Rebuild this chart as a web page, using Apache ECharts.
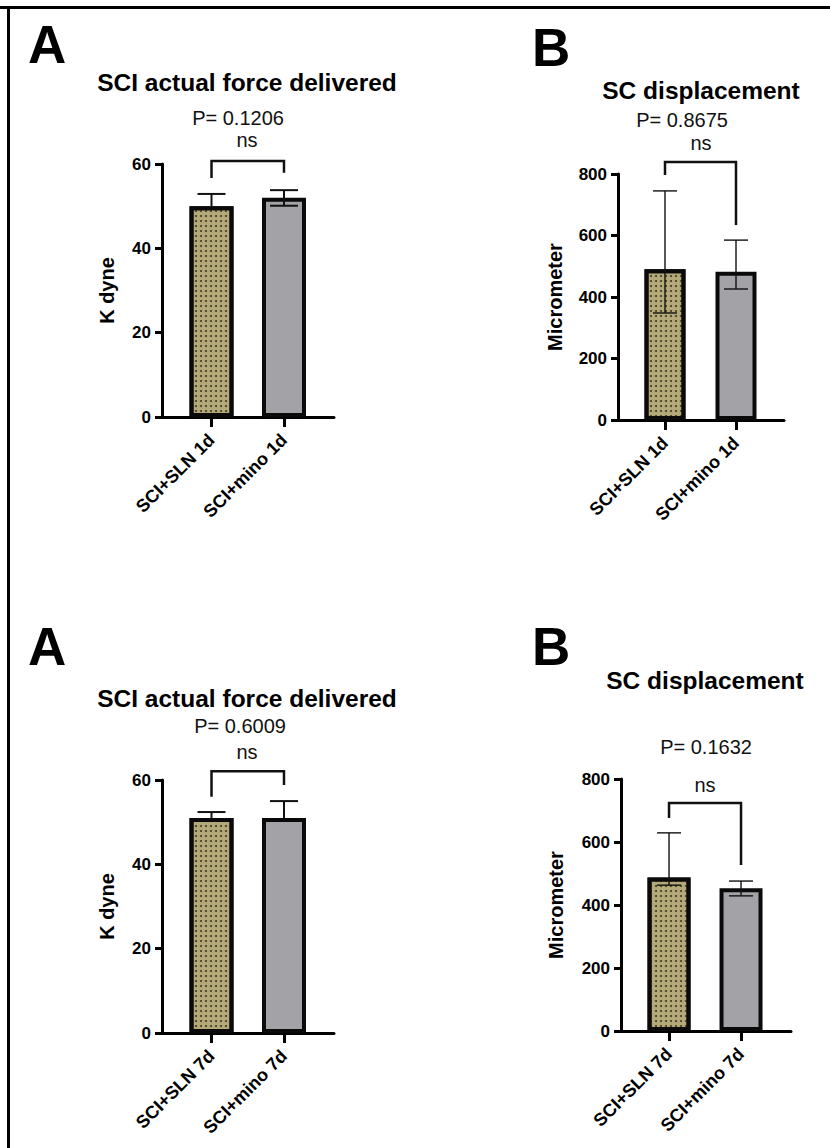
<!DOCTYPE html>
<html>
<head>
<meta charset="utf-8">
<script src="https://cdn.jsdelivr.net/npm/echarts@6/dist/echarts.min.js"></script>
<style>
  html, body { margin: 0; padding: 0; background: #fff; }
  #chart { width: 830px; height: 1148px; }
</style>
</head>
<body>
<div id="chart"></div>
<script>
// Group names per time point
const categories1d = ['SCI+SLN 1d', 'SCI+mino 1d'];
const categories7d = ['SCI+SLN 7d', 'SCI+mino 7d'];

// Actual impact force (K dyne): mean, lower and upper error limits
const forceMean1d = [50, 52];
const forceLow1d = [50, 50.1];
const forceHigh1d = [52.9, 53.8];
const forceMean7d = [51, 51];
const forceLow7d = [51, 51];
const forceHigh7d = [52.4, 55.0];

// Spinal cord displacement (micrometer): mean, lower and upper error limits
const dispMean1d = [490, 482];
const dispLow1d = [348, 426];
const dispHigh1d = [745, 585];
const dispMean7d = [487, 453];
const dispLow7d = [463, 429];
const dispHigh7d = [629, 476];

// Axis ticks
const forceTicks = { max: 60, step: 20 };
const dispTicks = { max: 800, step: 200 };

// Statistics annotations
const pValues = ['P= 0.1206', 'P= 0.8675', 'P= 0.6009', 'P= 0.1632'];
const sigLabel = 'ns';
const titles = ['SCI actual force delivered', 'SC displacement', 'SCI actual force delivered', 'SC displacement'];
const letters = ['A', 'B', 'A', 'B'];
const yNames = ['K dyne', 'Micrometer', 'K dyne', 'Micrometer'];

const FONT = '"Liberation Sans", Arial, Helvetica, sans-serif';
const KHAKI = '#b4a978';
const GREY = '#a2a2a7';

// Layout of the four panels
const panels = [
  { grid: { left: 162, top: 164, width: 172, height: 253 }, xr: [0.317, 2.69], ticks: forceTicks,
    cats: categories1d, mean: forceMean1d, low: forceLow1d, high: forceHigh1d,
    barW: 44, capW: 28, errW: 2, nameGap: 45, bracket: [60.7, 56.7, 57.9],
    letterPos: [28, 44], titlePos: [247, 82], pPos: [238, 118], nsPos: [247, 140] },
  { grid: { left: 618, top: 174, width: 166, height: 246 }, xr: [0.338, 2.676], ticks: dispTicks,
    cats: categories1d, mean: dispMean1d, low: dispLow1d, high: dispHigh1d,
    barW: 41, capW: 24, errW: 1.4, nameGap: 53, bracket: [839, 797, 634],
    letterPos: [532, 47], titlePos: [701, 90], pPos: [682, 120], nsPos: [701, 143] },
  { grid: { left: 162, top: 780, width: 172, height: 253 }, xr: [0.317, 2.69], ticks: forceTicks,
    cats: categories7d, mean: forceMean7d, low: forceLow7d, high: forceHigh7d,
    barW: 44, capW: 28, errW: 2, nameGap: 45, bracket: [62.1, 56.0, 58.8],
    letterPos: [28, 646], titlePos: [247, 698], pPos: [240, 726], nsPos: [247, 752] },
  { grid: { left: 621, top: 779, width: 170, height: 252 }, xr: [0.333, 2.694], ticks: dispTicks,
    cats: categories7d, mean: dispMean7d, low: dispLow7d, high: dispHigh7d,
    barW: 43, capW: 24, errW: 1.4, nameGap: 55, bracket: [724, 676, 527],
    letterPos: [532, 646], titlePos: [705, 680], pPos: [706, 747], nsPos: [705, 785] }
];

const dotDecal = {
  symbol: 'circle',
  symbolSize: 1,
  dashArrayX: [1.5, 2.6],
  dashArrayY: [1.5, 3.0],
  color: 'rgba(45,40,20,0.85)',
  rotation: 0
};

const grids = [], xAxes = [], yAxes = [], series = [], graphics = [];

panels.forEach((p, i) => {
  grids.push(Object.assign({ containLabel: false }, p.grid));

  xAxes.push({
    type: 'value', gridIndex: i, min: p.xr[0], max: p.xr[1],
    splitLine: { show: false },
    axisLine: { show: true, lineStyle: { color: '#000', width: 3 } },
    axisTick: { show: true, customValues: [1, 2], length: 10, lineStyle: { color: '#000', width: 3 } },
    axisLabel: {
      show: true, customValues: [1, 2], rotate: 45, margin: 20,
      formatter: v => p.cats[Math.round(v) - 1],
      color: '#000', fontFamily: FONT, fontWeight: 'bold', fontSize: 18
    }
  });

  yAxes.push({
    type: 'value', gridIndex: i, min: 0, max: p.ticks.max, interval: p.ticks.step,
    name: yNames[i], nameLocation: 'middle', nameRotate: 90, nameGap: p.nameGap,
    nameTextStyle: { color: '#000', fontFamily: FONT, fontWeight: 'bold', fontSize: 20 },
    splitLine: { show: false },
    axisLine: { show: true, lineStyle: { color: '#000', width: 3 } },
    axisTick: { show: true, length: 7, lineStyle: { color: '#000', width: 3 } },
    axisLabel: { margin: 11, color: '#000', fontFamily: FONT, fontWeight: 'bold', fontSize: 17 }
  });

  // Bars
  series.push({
    type: 'bar', xAxisIndex: i, yAxisIndex: i, barWidth: p.barW,
    data: p.mean.map((m, k) => ({
      value: [k + 1, m],
      itemStyle: k === 0
        ? { color: KHAKI, borderColor: '#0a0a0a', borderWidth: 4, decal: dotDecal }
        : { color: GREY, borderColor: '#0a0a0a', borderWidth: 4 }
    })),
    z: 2
  });

  // Error bars
  series.push({
    type: 'custom', xAxisIndex: i, yAxisIndex: i, z: 3, clip: false,
    data: p.mean.map((m, k) => [k + 1, m, p.low[k], p.high[k]]),
    renderItem: (params, api) => {
      const x = api.value(0), m = api.value(1), lo = api.value(2), hi = api.value(3);
      const top = api.coord([x, hi]);
      const bot = api.coord([x, lo]);
      const half = p.capW / 2;
      const style = { stroke: '#111', lineWidth: p.errW, fill: null };
      const children = [
        { type: 'line', shape: { x1: top[0], y1: top[1], x2: bot[0], y2: bot[1] }, style },
        { type: 'line', shape: { x1: top[0] - half, y1: top[1], x2: top[0] + half, y2: top[1] }, style }
      ];
      if (lo < m) {
        children.push({ type: 'line', shape: { x1: bot[0] - half, y1: bot[1], x2: bot[0] + half, y2: bot[1] }, style });
      }
      return { type: 'group', children };
    }
  });

  // Significance bracket between the two groups
  series.push({
    type: 'custom', xAxisIndex: i, yAxisIndex: i, z: 3, clip: false,
    data: [[1, 2, p.bracket[0], p.bracket[1], p.bracket[2]]],
    renderItem: (params, api) => {
      const a = api.coord([api.value(0), api.value(3)]);
      const b = api.coord([api.value(0), api.value(2)]);
      const c = api.coord([api.value(1), api.value(2)]);
      const d = api.coord([api.value(1), api.value(4)]);
      return {
        type: 'polyline',
        shape: { points: [a, b, c, d] },
        style: { stroke: '#111', lineWidth: 2.5, fill: null }
      };
    }
  });

  graphics.push(
    { type: 'text', x: p.letterPos[0], y: p.letterPos[1],
      style: { text: letters[i], font: 'bold 53px ' + FONT, fill: '#000', align: 'left', verticalAlign: 'middle', textAlign: 'left', textVerticalAlign: 'middle' } },
    { type: 'text', x: p.titlePos[0], y: p.titlePos[1],
      style: { text: titles[i], font: 'bold 24.5px ' + FONT, fill: '#000', align: 'center', verticalAlign: 'middle', textAlign: 'center', textVerticalAlign: 'middle' } },
    { type: 'text', x: p.pPos[0], y: p.pPos[1],
      style: { text: pValues[i], font: '20px ' + FONT, fill: '#111', align: 'center', verticalAlign: 'middle', textAlign: 'center', textVerticalAlign: 'middle' } },
    { type: 'text', x: p.nsPos[0], y: p.nsPos[1],
      style: { text: sigLabel, font: '20px ' + FONT, fill: '#111', align: 'center', verticalAlign: 'middle', textAlign: 'center', textVerticalAlign: 'middle' } }
  );
});

// Figure frame (top and left rules)
graphics.push(
  { type: 'line', shape: { x1: 0, y1: 7.5, x2: 830, y2: 7.5 }, style: { stroke: '#000', lineWidth: 3 } },
  { type: 'line', shape: { x1: 8.5, y1: 6, x2: 8.5, y2: 1148 }, style: { stroke: '#000', lineWidth: 3 } }
);

const chart = echarts.init(document.getElementById('chart'), null, { renderer: 'svg' });
chart.setOption({
  animation: false,
  backgroundColor: '#fff',
  grid: grids,
  xAxis: xAxes,
  yAxis: yAxes,
  series,
  graphic: graphics
});
</script>
</body>
</html>
